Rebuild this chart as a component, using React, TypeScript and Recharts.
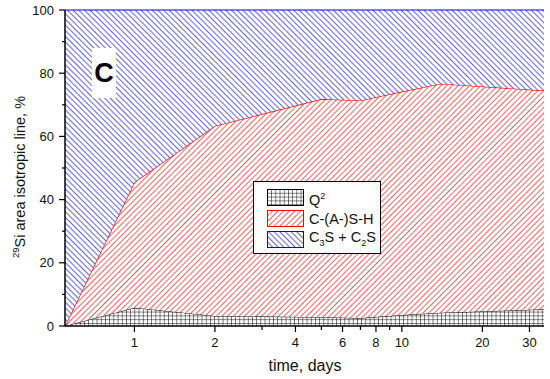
import { AreaChart, Area, XAxis, YAxis, Legend } from "recharts";

// time points, days (log axis)
const days = [0.55, 1, 2, 5, 7, 10, 14, 34];
// stacked shares, %
const q2 = [0, 5.8, 3.2, 2.8, 2.5, 3.5, 4.2, 5.3];
const csh = [0, 39.7, 60.1, 69.0, 68.9, 70.7, 72.5, 69.2];
const c3s = [100, 54.5, 36.7, 28.2, 28.6, 25.8, 23.3, 25.5];

const xTicks = [1, 2, 3, 4, 5, 6, 7, 8, 9, 10, 20, 30];
const xLabels = [1, 2, 4, 6, 8, 10, 20, 30];
const yTicks = [0, 10, 20, 30, 40, 50, 60, 70, 80, 90, 100];
const yLabels = [0, 20, 40, 60, 80, 100];

const FONT = "'Liberation Sans', Arial, sans-serif";

const data = days.map((d, i) => ({ day: d, q2: q2[i], csh: csh[i], c3s: c3s[i] }));

function Patterns({ prefix }: { prefix: string }) {
  return (
    <defs>
      <pattern id={`${prefix}-grid`} width={4.2} height={3.8} patternUnits="userSpaceOnUse">
        <rect width={4.2} height={3.8} fill="#fff" />
        <path d="M0 0 H4.2 M0 0 V3.8" stroke="#000" strokeWidth={1} />
      </pattern>
      <pattern
        id={`${prefix}-red`}
        width={4}
        height={4}
        patternUnits="userSpaceOnUse"
        patternTransform="rotate(45)"
      >
        <rect width={4} height={4} fill="#fff" />
        <line x1={0} y1={0} x2={0} y2={4} stroke="#ff1010" strokeWidth={1.3} />
      </pattern>
      <pattern
        id={`${prefix}-blue`}
        width={4}
        height={4}
        patternUnits="userSpaceOnUse"
        patternTransform="rotate(-45)"
      >
        <rect width={4} height={4} fill="#fff" />
        <line x1={0} y1={0} x2={0} y2={4} stroke="#1010ff" strokeWidth={1.3} />
      </pattern>
    </defs>
  );
}

function XTick({ x, y, payload }: any) {
  const major = xLabels.includes(payload.value);
  return (
    <g>
      <line x1={x} x2={x} y1={y} y2={y + (major ? 6 : 4)} stroke="#000" strokeWidth={1.2} />
      {major && (
        <text x={x} y={y + 21} textAnchor="middle" fontSize={13} fontFamily={FONT} fill="#111">
          {payload.value}
        </text>
      )}
    </g>
  );
}

function YTick({ x, y, payload }: any) {
  const major = yLabels.includes(payload.value);
  return (
    <g>
      <line x1={x} x2={x - (major ? 6 : 3)} y1={y} y2={y} stroke="#000" strokeWidth={1.2} />
      {major && (
        <text x={x - 11} y={y + 4.5} textAnchor="end" fontSize={13} fontFamily={FONT} fill="#111">
          {payload.value}
        </text>
      )}
    </g>
  );
}

function LegendBox() {
  const rows = [
    { fill: "lg-grid", border: "#000", label: <>Q<sup style={{ fontSize: 9 }}>2</sup></> },
    { fill: "lg-red", border: "#ff0000", label: <>C-(A-)S-H</> },
    {
      fill: "lg-blue",
      border: "#0000ff",
      label: (
        <>
          C<sub style={{ fontSize: 9 }}>3</sub>S + C<sub style={{ fontSize: 9 }}>2</sub>S
        </>
      ),
    },
  ];
  return (
    <div
      style={{
        width: 128,
        height: 73,
        border: "1px solid #000",
        background: "#fff",
        boxSizing: "border-box",
        fontFamily: FONT,
        fontSize: 14.5,
        color: "#111",
        padding: "5px 0 0 13px",
      }}
    >
      <svg width={0} height={0} style={{ position: "absolute" }}>
        <Patterns prefix="lg" />
      </svg>
      {rows.map((r, i) => (
        <div key={i} style={{ display: "flex", alignItems: "center", height: 21, lineHeight: "16px" }}>
          <svg width={37} height={17} style={{ marginRight: 5, flex: "none" }}>
            <rect x={0.5} y={0.5} width={36} height={16} fill={`url(#${r.fill})`} stroke={r.border} />
          </svg>
          <span style={{ whiteSpace: "nowrap" }}>{r.label}</span>
        </div>
      ))}
    </div>
  );
}

export default function App() {
  return (
    <div style={{ position: "absolute", left: 0, top: 0, width: 550, height: 379, background: "#fff" }}>
      <AreaChart width={550} height={379} data={data} margin={{ top: 10, right: 6, left: 0, bottom: 0 }}>
        <Patterns prefix="ch" />
        <XAxis
          dataKey="day"
          type="number"
          scale="log"
          domain={[0.55, 34]}
          allowDataOverflow
          ticks={xTicks}
          interval={0}
          tick={<XTick />}
          tickSize={0}
          tickMargin={0}
          tickLine={false}
          axisLine={{ stroke: "#000", strokeWidth: 1.5 }}
          height={53}
        />
        <YAxis
          type="number"
          domain={[0, 100]}
          ticks={yTicks}
          interval={0}
          tick={<YTick />}
          tickSize={0}
          tickMargin={0}
          tickLine={false}
          axisLine={{ stroke: "#000", strokeWidth: 1.5 }}
          width={65}
        />
        <Area
          type="linear"
          dataKey="q2"
          stackId="a"
          stroke="#000"
          strokeWidth={1}
          fill="url(#ch-grid)"
          fillOpacity={1}
          isAnimationActive={false}
        />
        <Area
          type="linear"
          dataKey="csh"
          stackId="a"
          stroke="#ff0000"
          strokeWidth={1.3}
          fill="url(#ch-red)"
          fillOpacity={1}
          isAnimationActive={false}
        />
        <Area
          type="linear"
          dataKey="c3s"
          stackId="a"
          stroke="#0000ff"
          strokeWidth={1}
          fill="url(#ch-blue)"
          fillOpacity={1}
          isAnimationActive={false}
        />
        <Legend
          layout="vertical"
          align="center"
          verticalAlign="middle"
          content={() => <LegendBox />}
          wrapperStyle={{ left: 253, top: 181, width: 128, height: 73 }}
        />
      </AreaChart>

      <div
        style={{
          position: "absolute",
          left: 92,
          top: 48,
          width: 24,
          height: 50,
          background: "#fff",
          fontFamily: FONT,
          fontWeight: "bold",
          fontSize: 27,
          lineHeight: "50px",
          textAlign: "center",
          color: "#000",
        }}
      >
        C
      </div>

      <div
        style={{
          position: "absolute",
          left: 16 - 110,
          top: 177 - 10,
          width: 220,
          height: 20,
          lineHeight: "20px",
          textAlign: "center",
          transform: "rotate(-90deg)",
          fontFamily: FONT,
          fontSize: 14.5,
          color: "#111",
          whiteSpace: "nowrap",
        }}
      >
        <sup style={{ fontSize: 9.5 }}>29</sup>Si area isotropic line, %
      </div>

      <div
        style={{
          position: "absolute",
          left: 205,
          top: 356,
          width: 200,
          textAlign: "center",
          fontFamily: FONT,
          fontSize: 16,
          color: "#111",
          lineHeight: "20px",
        }}
      >
        time, days
      </div>
    </div>
  );
}
